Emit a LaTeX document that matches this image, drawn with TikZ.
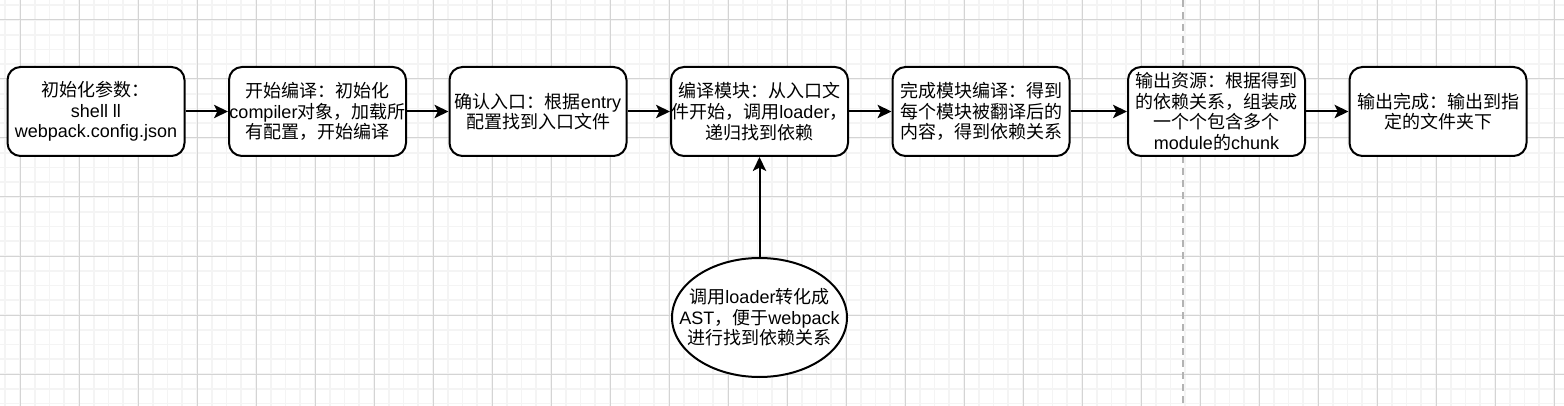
\documentclass[tikz,border=0pt]{standalone}
\usepackage{fontspec}
\setmainfont{Noto Sans CJK SC}
\newfontfamily\latinfont{Liberation Sans}
\newcommand\en[1]{{\latinfont #1}}
\usetikzlibrary{arrows.meta,shapes.geometric}
\definecolor{gridmajor}{HTML}{D4D4D4}
\definecolor{gridminor}{HTML}{F4F4F4}
\definecolor{sepline}{HTML}{B3B3B3}
\tikzset{
  etape/.style={draw, rounded corners=9.75pt, line width=1.5pt, fill=white,
    minimum width=132.75pt, minimum height=66.75pt, inner sep=0pt, align=center,
    font=\fontsize{13.5}{15.5}\selectfont},
  bulle/.style={etape, ellipse, sharp corners, inner xsep=-18pt,
    minimum width=131.25pt, minimum height=89.25pt},
  fleche/.style={-{Stealth[length=10.5pt,width=10pt,inset=2.5pt]}, line width=1.5pt},
}
\begin{document}
\begin{tikzpicture}[x=0.75pt,y=-0.75pt]  % ------ la grille -----------------------------
    \fill[white] (0,0) rectangle (1564,406);
    \useasboundingbox (0,0) rectangle (1564,406);
    \foreach \k in {0,...,106} \draw[gridminor, line width=1.2pt] ({5.25+\k*14.75},0) -- ++(0,406);
    \foreach \k in {0,...,27} \draw[gridminor, line width=1.2pt] (0,{5.25+\k*14.75}) -- ++(1564,0);
    \foreach \k in {0,...,26} \draw[gridmajor, line width=0.75pt] ({20+\k*59},0) -- ++(0,406);
    \foreach \k in {0,...,6} \draw[gridmajor, line width=0.75pt] (0,{20+\k*59}) -- ++(1564,0);
    \draw[sepline, line width=1.5pt, dash pattern=on 5pt off 4pt] (1183,0) -- (1183,406);
    % ------ les etapes -----------------------------
    \node[etape] (init) at (96,111.5) {初始化参数：\\\en{shell ll}\\\en{webpack.config.json}};
    \node[etape] (start) at (317.5,111.5) {开始编译：初始化\\\en{compiler}对象，加载所\\有配置，开始编译};
    \node[etape] (entry) at (538,111.5) {确认入口：根据\en{entry}\\配置找到入口文件};
    \node[etape] (build) at (759.5,111.5) {编译模块：从入口文\\件开始，调用\en{loader}，\\递归找到依赖};
    \node[etape] (done) at (981,111.5) {完成模块编译：得到\\每个模块被翻译后的\\内容，得到依赖关系};
    \node[etape] (emit) at (1216.5,111.5) {输出资源：根据得到\\的依赖关系，组装成\\一个个包含多个\\\en{module}的\en{chunk}};
    \node[etape] (finish) at (1438,111.5) {输出完成：输出到指\\定的文件夹下};
    \node[bulle] (ast) at (759.5,317.5) {调用\en{loader}转化成\\\en{AST}，便于\en{webpack}\\进行找到依赖关系};
    \foreach \a/\b in {init/start,start/entry,entry/build,build/done,done/emit,emit/finish}
      \draw[fleche] (\a) -- (\b);
    \draw[fleche] (ast) -- (build);
\end{tikzpicture}
\end{document}
